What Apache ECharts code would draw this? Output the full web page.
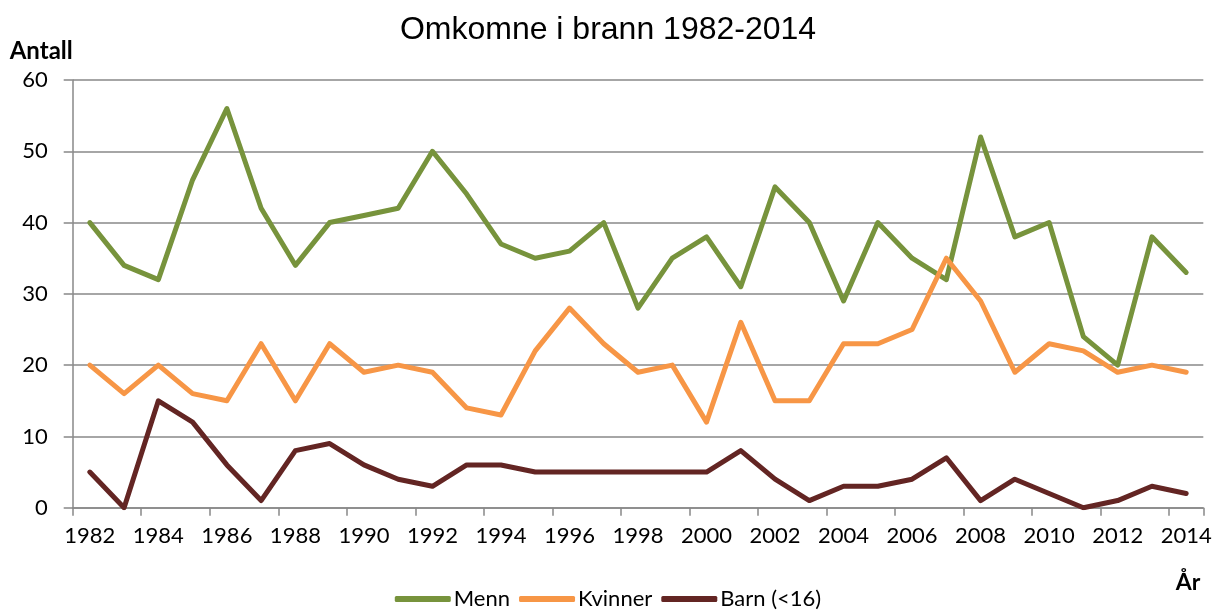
<!DOCTYPE html>
<html><head><meta charset="utf-8">
<script src="https://cdn.jsdelivr.net/npm/echarts@6/dist/echarts.min.js"></script>
<style>html,body{margin:0;padding:0;background:#fff}#c{width:1216px;height:610px}</style>
</head><body><div id="c"></div>
<script>
const years = ['1982','1983','1984','1985','1986','1987','1988','1989','1990','1991','1992','1993','1994','1995','1996','1997','1998','1999','2000','2001','2002','2003','2004','2005','2006','2007','2008','2009','2010','2011','2012','2013','2014'];
const menn = [40,34,32,46,56,42,34,40,41,42,50,44,37,35,36,40,28,35,38,31,45,40,29,40,35,32,52,38,40,24,20,38,33];
const kvinner = [20,16,20,16,15,23,15,23,19,20,19,14,13,22,28,23,19,20,12,26,15,15,23,23,25,35,29,19,23,22,19,20,19];
const barn = [5,0,15,12,6,1,8,9,6,4,3,6,6,5,5,5,5,5,5,8,4,1,3,3,4,7,1,4,2,0,1,3,2];
const seriesNames = ['Menn','Kvinner','Barn (<16)'];
const colors = ['#77933C','#F79646','#632523'];
const yTicks = [0,10,20,30,40,50,60];

const font = 'Lato, "Open Sans", sans-serif';
const chart = echarts.init(document.getElementById('c'));
const mk = (name, data, color) => ({
  name, type: 'line', data, showSymbol: false, symbol: 'none',
  lineStyle: { color, width: 5, cap: 'round', join: 'round' },
  itemStyle: { color }, animation: false
});
chart.setOption({
  animation: false,
  color: colors,
  title: { text: 'Omkomne i brann 1982-2014', left: 'center', top: 9,
    textStyle: { fontFamily: 'Liberation Sans, Arial, sans-serif', fontSize: 32, fontWeight: 'normal', color: '#000' } },
  grid: { left: 72.7, right: 12.7, top: 80, bottom: 102.3 },
  legend: { bottom: 0, left: 'center', padding: 0, icon: 'roundRect', itemWidth: 56, itemHeight: 6, itemGap: 9,
    textStyle: { fontFamily: font, fontSize: 22, color: '#000', padding: [0,0,0,-2] },
    data: seriesNames },
  xAxis: { type: 'category', data: years, boundaryGap: true,
    axisLine: { lineStyle: { color: '#888', width: 1.5 } },
    axisTick: { show: true, length: 8, lineStyle: { color: '#888', width: 1.5 } },
    axisLabel: { interval: 1, color: '#000', fontFamily: font, fontSize: 22, margin: 17 },
    name: 'År', nameLocation: 'end', nameGap: -3,
    nameTextStyle: { fontFamily: font, fontSize: 23, fontWeight: 'bold', color: '#000', align: 'right', verticalAlign: 'top', padding: [63, 0, 0, 0] } },
  yAxis: { type: 'value', min: yTicks[0], max: yTicks[yTicks.length-1], interval: 10,
    axisLine: { show: true, lineStyle: { color: '#888', width: 1.5 } },
    axisTick: { show: true, length: 9, lineStyle: { color: '#888', width: 1.5 } },
    splitLine: { lineStyle: { color: '#888', width: 1.5 } },
    axisLabel: { color: '#000', fontFamily: font, fontSize: 22, margin: 25 },
    name: 'Antall', nameLocation: 'end', nameGap: 17,
    nameTextStyle: { fontFamily: font, fontSize: 24, fontWeight: 'bold', color: '#000', align: 'left', padding: [0, 0, 0, -63] } },
  series: [mk(seriesNames[0], menn, colors[0]), mk(seriesNames[1], kvinner, colors[1]), mk(seriesNames[2], barn, colors[2])]
});
</script></body></html>
